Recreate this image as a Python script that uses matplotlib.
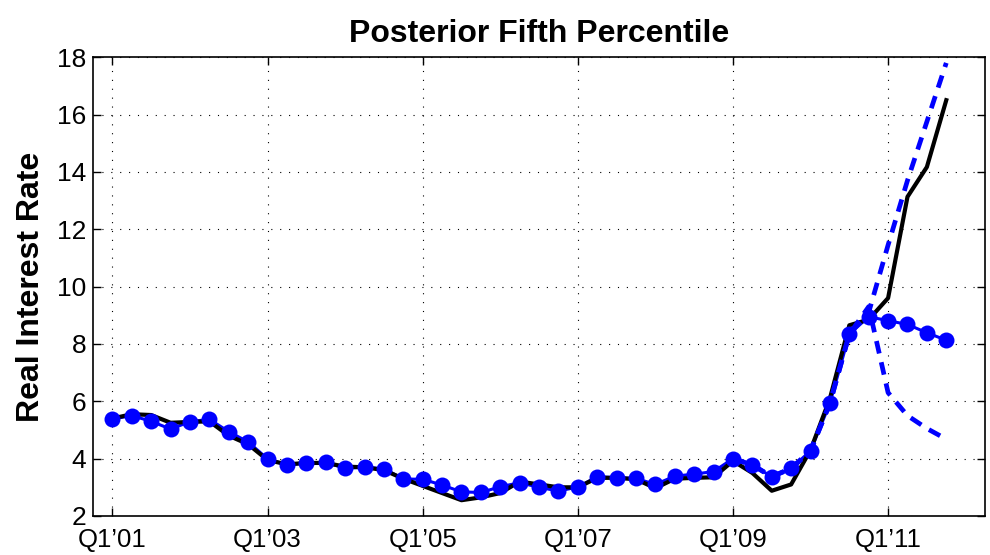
import matplotlib
matplotlib.use("Agg")
import matplotlib.pyplot as plt
import numpy as np

plt.rcParams['font.family'] = ['Liberation Sans', 'DejaVu Sans']

# Quarterly index: 0 = Q1 2001 ... 43 = Q4 2011
quarters = np.arange(44)

actual_rate = [5.40, 5.55, 5.52, 5.25, 5.28, 5.30, 4.80, 4.50, 3.95, 3.80,
               3.85, 3.85, 3.72, 3.70, 3.60, 3.30, 3.05, 2.80, 2.55, 2.65,
               2.80, 3.20, 3.10, 3.00, 3.00, 3.33, 3.33, 3.28, 2.97, 3.30,
               3.33, 3.35, 3.92, 3.50, 2.88, 3.10, 4.30, 6.10, 8.65, 8.85,
               9.60, 13.13, 14.17, 16.50]

fifth_pct = [5.38, 5.50, 5.30, 5.03, 5.29, 5.37, 4.94, 4.58, 3.99, 3.78,
             3.85, 3.87, 3.66, 3.70, 3.65, 3.29, 3.28, 3.08, 2.84, 2.82,
             3.02, 3.16, 3.00, 2.87, 3.01, 3.37, 3.34, 3.31, 3.10, 3.39,
             3.46, 3.55, 4.00, 3.78, 3.37, 3.66, 4.27, 5.93, 8.34, 8.95,
             8.81, 8.68, 8.39, 8.13]

# Dashed paths, starting at Q1'09 (index 32)
path_start = 32
path_upper = [4.00, 3.78, 3.37, 3.66, 4.27, 5.93, 8.34, 9.10,
              11.45, 13.70, 15.75, 17.80]
path_lower = [4.00, 3.78, 3.37, 3.66, 4.27, 5.93, 8.34, 9.30,
              6.30, 5.50, 5.05, 4.68]

tick_pos = [0, 8, 16, 24, 32, 40]
tick_labels = ["Q1\u201901", "Q1\u201903", "Q1\u201905", "Q1\u201907",
               "Q1\u201909", "Q1\u201911"]

fig = plt.figure(figsize=(9.9, 5.55), dpi=100)
ax = fig.add_axes([0.094, 0.0703, 0.901, 0.8267])

blue = '#0000ff'
ax.plot(quarters, fifth_pct, color=blue, lw=2.2, zorder=2)
ax.plot(quarters, actual_rate, color='black', lw=3.0, zorder=3)
ax.plot(quarters, fifth_pct, linestyle='none', marker='o', color=blue,
        markersize=11.5, markeredgewidth=0, zorder=4)

px = np.arange(path_start, path_start + len(path_upper))
for path in (path_upper, path_lower):
    ax.plot(px, path, color=blue, lw=3.4, linestyle=(0, (2.7, 1.9)),
            zorder=5)

ax.set_xlim(-1, 45)
ax.set_ylim(2, 18)
ax.set_xticks(tick_pos)
ax.set_xticklabels(tick_labels)
ax.set_yticks(np.arange(2, 19, 2))

ax.grid(True, color='black', linestyle=(0, (1, 7)), linewidth=0.8)
ax.tick_params(axis='both', which='both', direction='in', length=6,
               width=1, top=True, right=True)
ax.tick_params(axis='x', labelsize=18.5, pad=9)
ax.tick_params(axis='y', labelsize=19, pad=5)
for s in ax.spines.values():
    s.set_linewidth(1.2)

ax.set_title("Posterior Fifth Percentile", fontsize=23, fontweight='bold',
             pad=11)
ax.set_ylabel("Real Interest Rate", fontsize=23, fontweight='bold',
              labelpad=8)

fig.savefig("out.png", dpi=100)
